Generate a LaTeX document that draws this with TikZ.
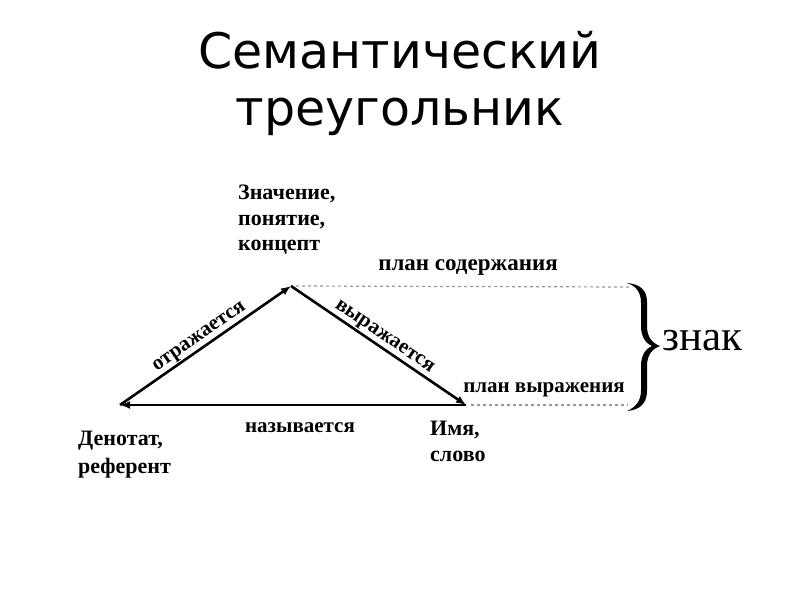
\documentclass[tikz,border=0pt]{standalone}
\usepackage{fontspec}
\setmainfont{Liberation Serif}
\newfontfamily\titlefont{DejaVu Sans}
\usetikzlibrary{arrows.meta,positioning}
\tikzset{
  vertex/.style={font=\fontsize{22}{25.5}\selectfont\bfseries,align=left,inner sep=0pt},
  side/.style={-{Latex[length=10pt,width=8pt]},line width=2.6pt},
  sidelabel/.style={font=\fontsize{21}{22}\selectfont\bfseries,inner sep=0pt},
  level/.style={gray!80,line width=1.2pt,dash pattern=on 3pt off 3pt},
  levellabel/.style={font=\fontsize{21}{22}\selectfont\bfseries,inner sep=0pt}
}
\begin{document}
\begin{tikzpicture}[x=1pt,y=-1pt]
  \useasboundingbox[fill=white] (0,0) rectangle (800,600);
  % title
  \node[font=\titlefont\fontsize{49}{57}\selectfont,anchor=base] (title1) at (400,68) {Семантический};
  \node[font=\titlefont\fontsize{49}{57}\selectfont,anchor=base] (title2) at (400,125) {треугольник};
  % vertices of the triangle
  \coordinate (top) at (291,286);
  \coordinate (left) at (120,405);
  \coordinate (right) at (466,405);
  \coordinate (upend) at (630,287);
  \coordinate (lowend) at (628,405);
  \node[vertex,anchor=north west] (concept) at (238,185) {Значение,\\понятие,\\концепт};
  \node[vertex,anchor=north west,font=\fontsize{22}{28}\selectfont\bfseries] (denotat) at (78,431) {Денотат,\\референт};
  \node[vertex,anchor=north west] (name) at (430,421) {Имя,\\слово};
  % sides
  \draw[side] (left) -- node[sidelabel,sloped,above=1pt] (reflect) {отражается} (top);
  \draw[side] (top) -- node[sidelabel,sloped,above=1pt] (express) {выражается} (right);
  \draw[side] (right) -- node[sidelabel,below=16pt,xshift=7pt] (call) {называется} (left);
  % planes
  \draw[level] ([xshift=5pt]top) -- (upend);
  \draw[level] ([xshift=5pt]right) -- (lowend);
  \node[levellabel,font=\fontsize{23}{24}\selectfont\bfseries] (content) at (468,268) {план содержания};
  \node[levellabel] (form) at (544,390) {план выражения};
  % brace
  \fill (627,283) .. controls (640,284) and (647,290) .. (647,302) -- (647,326)
    .. controls (647,337) and (652,343) .. (660,346)
    .. controls (652,349) and (647,355) .. (647,366) -- (647,391)
    .. controls (647,403) and (640,410) .. (627,411)
    .. controls (636,407) and (641,401) .. (641,390) -- (641,366)
    .. controls (641,356) and (645,349) .. (652,346)
    .. controls (645,343) and (641,336) .. (641,326) -- (641,303)
    .. controls (641,292) and (636,286) .. (627,283) -- cycle;
  \node[font=\fontsize{43}{44}\selectfont,anchor=west,inner sep=0pt] (sign) at (662,341) {знак};
\end{tikzpicture}
\end{document}
